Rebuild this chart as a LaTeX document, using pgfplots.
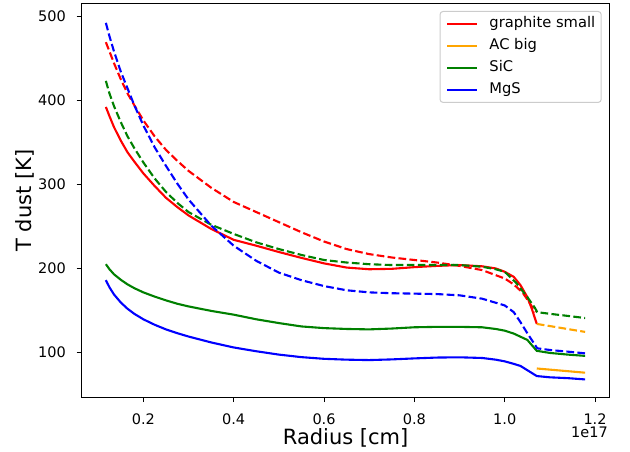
\documentclass[border=0pt]{standalone}
\usepackage{fontspec}
\setmainfont{DejaVu Sans}
\usepackage{pgfplots}
\pgfplotsset{compat=1.18}
\definecolor{mred}{RGB}{255,0,0}
\definecolor{morange}{RGB}{255,165,0}
\definecolor{mgreen}{RGB}{0,128,0}
\definecolor{mblue}{RGB}{0,0,255}
\begin{document}
\begin{tikzpicture}
\path[use as bounding box] (-81.7bp,-55bp) rectangle (548.3bp,397bp);
\begin{axis}[
  at={(0,0)}, anchor=south west,
  scale only axis, width=527.8bp, height=393bp,
  xmin=0.0635, xmax=1.232, ymin=47.1, ymax=514.4,
  axis line style={line width=1bp, black},
  tick align=outside, tick pos=left, major tick length=5bp,
  tick style={line width=1bp, black},
  xtick={0.2,0.4,0.6,0.8,1.0,1.2}, xticklabels={0.2,0.4,0.6,0.8,1.0,1.2},
  ytick={100,200,300,400,500},
  /pgf/number format/assume math mode=true,
  tick label style={font=\fontsize{14.5bp}{17bp}\selectfont},
  xticklabel style={anchor=north, inner sep=0pt, yshift=-11.3bp},
  yticklabel style={anchor=east, inner sep=0pt, xshift=-10.7bp},
  xlabel={Radius [cm]}, ylabel={T dust [K]},
  every axis x label/.style={at={(axis description cs:0.5,-0.1196)}, anchor=base, font=\fontsize{21bp}{25bp}\selectfont},
  every axis y label/.style={at={(axis description cs:-0.09417,0.5)}, rotate=90, anchor=base, font=\fontsize{21bp}{25bp}\selectfont},
  legend cell align=left,
  legend style={at={(rel axis cs:1,1)}, anchor=north east, xshift=-7.8bp, yshift=-7bp,
    draw=black!20, line width=1bp, rounded corners=3bp, fill=white,
    font=\fontsize{14.7bp}{17bp}\selectfont,
    inner xsep=6bp, inner ysep=5.5bp, row sep=7.3bp, column sep=11bp,
    nodes={inner sep=0pt, text height=11bp, text depth=3.5bp}},
  legend image code/.code={\draw[#1] (0bp,0bp) -- (30.3bp,0bp);},
  every axis plot/.append style={line width=2.1bp},
  dsh/.style={dash pattern=on 7.7bp off 3.3bp},
]
% graphite small
\addplot[mred] coordinates {(0.117,392) (0.125,381) (0.135,368) (0.15,352) (0.165,338) (0.18,327) (0.2,313) (0.225,298) (0.25,284) (0.275,273) (0.3,263) (0.35,247) (0.4,234) (0.45,227) (0.5,219.5) (0.55,212.5) (0.6,206) (0.65,201) (0.7,199) (0.75,199.5) (0.8,201.5) (0.85,203) (0.9,204) (0.95,202.5) (0.98,200) (1.0,196) (1.02,190) (1.035,180) (1.05,166) (1.06,152) (1.071,134)};
\addlegendentry{graphite small}
\addplot[mred, dsh, forget plot] coordinates {(0.117,469) (0.125,458) (0.135,444) (0.15,425) (0.165,408) (0.18,394) (0.2,376) (0.225,357) (0.25,341) (0.275,328) (0.3,316) (0.35,296) (0.4,279) (0.45,267) (0.5,255) (0.55,243) (0.6,232) (0.65,223) (0.7,217) (0.75,213) (0.8,210) (0.85,207) (0.9,203) (0.95,198) (1.0,188) (1.02,181) (1.04,171) (1.055,159) (1.068,148)};
% AC big
\addplot[morange] coordinates {(1.071,81) (1.178,76)};
\addlegendentry{AC big}
\addplot[morange, dsh, forget plot] coordinates {(1.071,134) (1.178,124.5)};
% SiC
\addplot[mgreen] coordinates {(0.117,205) (0.125,199) (0.135,193) (0.15,186.5) (0.165,181) (0.18,176.5) (0.2,171.5) (0.225,166.5) (0.25,162) (0.275,158) (0.3,154.8) (0.35,149.5) (0.4,145) (0.45,139.5) (0.5,135) (0.55,131) (0.6,129) (0.65,128) (0.7,127.5) (0.75,128.5) (0.8,130) (0.85,130.5) (0.9,130.5) (0.95,130) (0.98,128) (1.0,126) (1.02,122.5) (1.05,115) (1.071,102) (1.1,99.5) (1.14,97.5) (1.178,96)};
\addlegendentry{SiC}
\addplot[mgreen, dsh, forget plot] coordinates {(0.117,423) (0.125,408) (0.135,393) (0.15,374) (0.165,357) (0.18,343) (0.2,326) (0.225,307) (0.25,291) (0.275,278) (0.3,267) (0.35,252) (0.4,241) (0.45,231) (0.5,223) (0.55,216) (0.6,210) (0.65,207) (0.7,205) (0.75,204) (0.8,204) (0.85,204) (0.9,204) (0.95,202) (0.98,199) (1.0,196) (1.025,183) (1.05,166) (1.067,153) (1.072,148) (1.1,146) (1.14,143.5) (1.178,141)};
% MgS
\addplot[mblue] coordinates {(0.117,186) (0.125,177.5) (0.135,169) (0.15,159.5) (0.165,152) (0.18,146) (0.2,139.5) (0.225,133) (0.25,127.5) (0.275,123) (0.3,119) (0.35,112) (0.4,106) (0.45,101.5) (0.5,97.5) (0.55,94.5) (0.6,92.5) (0.65,91.5) (0.7,91) (0.75,91.8) (0.8,93) (0.85,94) (0.9,94.3) (0.95,93.5) (0.98,91.5) (1.0,89.5) (1.02,86.5) (1.035,84) (1.056,77) (1.071,72) (1.1,70.5) (1.14,69.5) (1.178,68)};
\addlegendentry{MgS}
\addplot[mblue, dsh, forget plot] coordinates {(0.117,492) (0.125,476) (0.135,458) (0.15,434) (0.165,414) (0.18,394) (0.2,370) (0.225,344) (0.25,322) (0.275,301) (0.3,282) (0.35,251) (0.4,227) (0.45,209) (0.5,195) (0.55,186) (0.6,179) (0.65,174) (0.7,171.5) (0.75,170.5) (0.8,170) (0.85,169.5) (0.9,168) (0.95,164) (1.0,156) (1.02,148) (1.035,136) (1.05,123) (1.072,105) (1.1,103) (1.14,101) (1.178,99)};
\end{axis}
\node[anchor=base east, inner sep=0pt, font=\fontsize{14.5bp}{17bp}\selectfont] at (526.3bp,-40.7bp) {1e17};
\end{tikzpicture}
\end{document}
